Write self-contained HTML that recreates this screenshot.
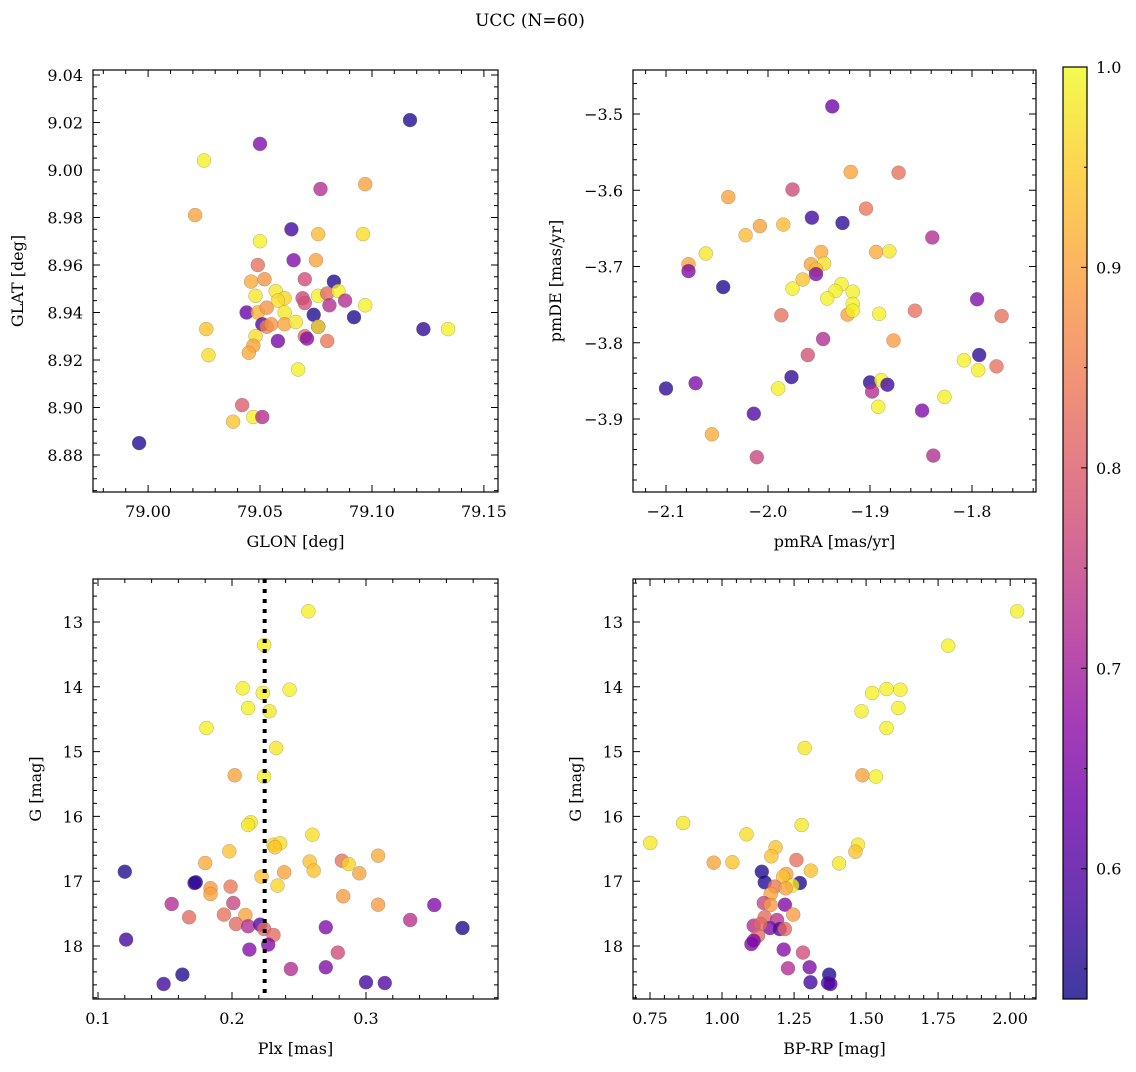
<!DOCTYPE html>
<html><head><meta charset="utf-8"><style>
body{margin:0;background:#fff;}
svg text{font-family:"DejaVu Serif","Liberation Serif",serif;fill:#000;}
</style></head><body>
<svg id="fig" width="1136" height="1067" viewBox="0 0 1136 1067" xmlns="http://www.w3.org/2000/svg">
<defs>
<linearGradient id="plasma" x1="0" y1="1" x2="0" y2="0">
<stop offset="0" stop-color="#0d0887"/><stop offset="0.1" stop-color="#41049d"/><stop offset="0.2" stop-color="#6a00a8"/><stop offset="0.3" stop-color="#8f0da4"/><stop offset="0.4" stop-color="#b12a90"/><stop offset="0.5" stop-color="#cc4778"/><stop offset="0.6" stop-color="#e16462"/><stop offset="0.7" stop-color="#f2844b"/><stop offset="0.8" stop-color="#fca636"/><stop offset="0.9" stop-color="#fcce25"/><stop offset="1" stop-color="#f0f921"/>
</linearGradient>
</defs>
<text x="530" y="26" font-size="17" text-anchor="middle">UCC (N=60)</text>
</svg>
<script>
// ---- data: GLON/GLAT panel ----
const glon = [79.117,79.050,79.025,79.077,79.097,79.021,79.064,79.076,79.096,79.050,79.065,79.075,79.049,79.070,79.046,79.052,79.083,79.048,79.057,79.061,79.058,79.069,79.070,79.076,79.080,79.085,79.088,79.081,79.097,79.044,79.049,79.053,79.061,79.051,79.053,79.055,79.061,79.066,79.074,79.076,79.076,79.092,79.123,79.134,79.026,79.048,79.047,79.045,79.027,79.058,79.070,79.071,79.080,79.067,79.042,79.047,79.051,79.038,78.996];
const glat = [9.021,9.011,9.004,8.992,8.994,8.981,8.975,8.973,8.973,8.970,8.962,8.962,8.960,8.954,8.953,8.954,8.953,8.947,8.949,8.946,8.945,8.946,8.944,8.947,8.948,8.949,8.945,8.943,8.943,8.940,8.940,8.942,8.940,8.935,8.934,8.935,8.935,8.936,8.939,8.934,8.934,8.938,8.933,8.933,8.933,8.930,8.926,8.923,8.922,8.928,8.930,8.929,8.928,8.916,8.901,8.896,8.896,8.894,8.885];
const probPos = [0.55,0.65,0.99,0.72,0.9,0.9,0.58,0.93,0.97,0.99,0.65,0.9,0.83,0.77,0.91,0.88,0.55,0.98,0.98,0.96,0.97,0.76,0.78,0.99,0.82,0.99,0.72,0.72,0.99,0.62,0.92,0.88,0.98,0.6,0.85,0.88,0.9,0.98,0.55,0.63,0.98,0.55,0.56,0.99,0.94,0.97,0.9,0.91,0.97,0.64,0.82,0.66,0.84,0.99,0.8,0.99,0.72,0.94,0.55];
// ---- data: proper motion panel ----
const pmra = [-1.937,-1.919,-1.872,-1.976,-2.039,-1.904,-1.957,-1.927,-1.985,-2.008,-2.022,-1.839,-2.061,-1.894,-1.881,-1.948,-2.078,-2.078,-1.958,-1.945,-1.953,-1.953,-2.044,-1.966,-1.976,-1.928,-1.934,-1.917,-1.942,-1.917,-1.922,-1.917,-1.891,-1.795,-1.856,-1.771,-1.987,-1.877,-1.946,-1.961,-1.793,-1.808,-1.794,-1.776,-2.100,-2.071,-1.977,-1.990,-1.900,-1.889,-1.883,-1.898,-1.892,-1.827,-1.849,-2.014,-2.055,-2.011,-1.838];
const pmde = [-3.490,-3.576,-3.577,-3.599,-3.609,-3.624,-3.636,-3.643,-3.645,-3.647,-3.659,-3.662,-3.683,-3.681,-3.680,-3.681,-3.697,-3.706,-3.697,-3.696,-3.704,-3.710,-3.727,-3.717,-3.729,-3.723,-3.732,-3.733,-3.742,-3.749,-3.763,-3.758,-3.762,-3.743,-3.758,-3.765,-3.764,-3.797,-3.795,-3.816,-3.816,-3.823,-3.836,-3.831,-3.860,-3.853,-3.845,-3.860,-3.852,-3.849,-3.855,-3.864,-3.884,-3.871,-3.889,-3.893,-3.920,-3.950,-3.948];
const probPm = [0.63,0.9,0.83,0.77,0.9,0.84,0.58,0.56,0.93,0.9,0.93,0.72,0.98,0.91,0.98,0.91,0.9,0.65,0.9,0.97,0.94,0.65,0.55,0.94,0.99,0.99,0.99,0.99,0.99,0.99,0.9,0.99,0.99,0.65,0.83,0.83,0.83,0.89,0.72,0.78,0.56,0.99,0.99,0.83,0.56,0.65,0.56,0.99,0.56,0.99,0.58,0.72,0.99,0.99,0.65,0.6,0.91,0.76,0.72];
// ---- data: parallax vs G panel ----
const plx = [0.257,0.224,0.208,0.223,0.243,0.212,0.228,0.181,0.233,0.202,0.224,0.214,0.212,0.260,0.231,0.236,0.232,0.198,0.180,0.258,0.261,0.282,0.287,0.309,0.295,0.120,0.173,0.172,0.222,0.239,0.234,0.184,0.184,0.199,0.283,0.309,0.155,0.201,0.351,0.168,0.194,0.210,0.333,0.203,0.212,0.221,0.224,0.231,0.270,0.372,0.121,0.227,0.213,0.279,0.244,0.270,0.163,0.149,0.300,0.314];
const gPlx = [12.835,13.355,14.023,14.095,14.044,14.327,14.378,14.636,14.944,15.366,15.386,16.091,16.132,16.282,16.436,16.415,16.477,16.539,16.719,16.698,16.837,16.683,16.734,16.606,16.878,16.853,17.017,17.028,16.930,16.863,17.068,17.110,17.198,17.084,17.233,17.362,17.352,17.336,17.367,17.557,17.516,17.521,17.598,17.660,17.696,17.670,17.737,17.830,17.711,17.722,17.902,17.979,18.056,18.102,18.355,18.329,18.442,18.586,18.560,18.571];
const probPlx = [0.99,0.99,0.99,0.99,0.99,0.99,0.98,0.99,0.98,0.9,0.99,0.98,0.98,0.97,0.96,0.97,0.94,0.94,0.91,0.94,0.94,0.83,0.96,0.91,0.9,0.55,0.53,0.57,0.94,0.9,0.96,0.89,0.9,0.84,0.89,0.89,0.72,0.76,0.65,0.82,0.83,0.9,0.73,0.82,0.72,0.6,0.82,0.82,0.65,0.55,0.58,0.65,0.66,0.77,0.72,0.65,0.55,0.58,0.58,0.6];
const plxMean = [0.2244];
// ---- data: CMD panel ----
const bprp = [2.024,1.785,1.521,1.571,1.619,1.484,1.612,1.571,1.287,1.487,1.534,0.865,1.276,1.085,0.751,1.186,1.171,1.472,1.463,0.971,1.036,1.406,1.258,1.308,1.138,1.148,1.223,1.212,1.270,1.244,1.183,1.221,1.169,1.145,1.218,1.169,1.247,1.148,1.191,1.110,1.166,1.200,1.218,1.133,1.125,1.102,1.110,1.214,1.281,1.229,1.304,1.372,1.307,1.368,1.376];
const gCmd = [12.835,13.365,14.095,14.033,14.044,14.378,14.327,14.636,14.944,15.366,15.386,16.101,16.132,16.276,16.410,16.477,16.616,16.436,16.544,16.714,16.708,16.725,16.672,16.837,16.853,17.017,16.889,16.930,17.028,17.068,17.084,17.110,17.198,17.336,17.362,17.367,17.516,17.557,17.598,17.686,17.722,17.737,17.737,17.660,17.840,17.969,17.918,18.056,18.102,18.344,18.329,18.442,18.560,18.571,18.586];
const probCmd = [0.99,0.99,0.99,0.99,0.99,0.99,0.99,0.99,0.98,0.9,0.99,0.98,0.98,0.97,0.98,0.94,0.94,0.98,0.94,0.9,0.94,0.98,0.83,0.94,0.55,0.55,0.9,0.94,0.55,0.98,0.84,0.9,0.9,0.76,0.65,0.89,0.89,0.82,0.73,0.72,0.65,0.6,0.82,0.82,0.82,0.65,0.65,0.66,0.77,0.72,0.65,0.55,0.58,0.58,0.6];
// ---- tick labels ----
const ticksGlon = [79.00,79.05,79.10,79.15];
const ticksGlat = [8.88,8.90,8.92,8.94,8.96,8.98,9.00,9.02,9.04];
const ticksPmra = [-2.1,-2.0,-1.9,-1.8];
const ticksPmde = [-3.9,-3.8,-3.7,-3.6,-3.5];
const ticksPlx = [0.1,0.2,0.3];
const ticksG = [13,14,15,16,17,18];
const ticksBprp = [0.75,1.00,1.25,1.50,1.75,2.00];
const ticksCbar = [0.6,0.7,0.8,0.9,1.0];
const pMin = 0.535, pMax = 1.0;

const NS = 'http://www.w3.org/2000/svg';
const svg = document.getElementById('fig');
const stops = ['#0d0887','#41049d','#6a00a8','#8f0da4','#b12a90','#cc4778','#e16462','#f2844b','#fca636','#fcce25','#f0f921'];
function hex(c){return [parseInt(c.substr(1,2),16),parseInt(c.substr(3,2),16),parseInt(c.substr(5,2),16)];}
function plasma(p){
  let t=(p-pMin)/(pMax-pMin); t=Math.max(0,Math.min(1,t));
  const f=t*10, i=Math.min(9,Math.floor(f)), u=f-i;
  const a=hex(stops[i]), b=hex(stops[i+1]);
  return 'rgb('+a.map((v,k)=>Math.round(v+(b[k]-v)*u)).join(',')+')';
}
function mk(tag, attrs, parent){
  const e=document.createElementNS(NS,tag);
  for(const k in attrs) e.setAttribute(k,attrs[k]);
  (parent||svg).appendChild(e); return e;
}
function fmt(v,d){return (v<0?'\u2212':'')+Math.abs(v).toFixed(d);}

function panel(cfg){
  const g=mk('g',{});
  
  
  const X=v=>cfg.x0+(v-cfg.xd[0])/(cfg.xd[1]-cfg.xd[0])*(cfg.x1-cfg.x0);
  const Y=v=>cfg.y0+(v-cfg.yd[0])/(cfg.yd[1]-cfg.yd[0])*(cfg.y1-cfg.y0);
  const pg=mk('g',{},g);
  
  
  for(let i=0;i<cfg.xs.length;i++){
    const c=mk('circle',{cx:X(cfg.xs[i]).toFixed(1),cy:Y(cfg.ys[i]).toFixed(1),r:7,fill:plasma(cfg.ps[i]),'fill-opacity':0.78,stroke:'#666','stroke-opacity':0.5,'stroke-width':0.5},pg);
    
    
  }
  if(cfg.vline){
    const l=mk('line',{x1:X(cfg.vline),x2:X(cfg.vline),y1:cfg.y0,y2:cfg.y1,stroke:'#000','stroke-width':4,'stroke-dasharray':'4 6'},g);
    
    
  }
  const fr=mk('rect',{x:cfg.x0,y:cfg.y0,width:cfg.x1-cfg.x0,height:cfg.y1-cfg.y0,fill:'none',stroke:'#000','stroke-width':1.2},g);
  
  
  const tk=mk('path',{stroke:'#000','stroke-width':1,fill:'none'},g);
  let d='';
  const xlo=Math.min(...cfg.xd), xhi=Math.max(...cfg.xd), ylo=Math.min(...cfg.yd), yhi=Math.max(...cfg.yd);
  for(let v=Math.ceil(xlo/cfg.xm-1e-6)*cfg.xm; v<=xhi+1e-9; v+=cfg.xm){
    const px=X(v).toFixed(1);
    const maj=cfg.xt.some(t=>Math.abs(t-v)<cfg.xm/3); const L=maj?7:4;
    d+=`M${px} ${cfg.y1}v${-L}M${px} ${cfg.y0}v${L}`;
  }
  for(let v=Math.ceil(ylo/cfg.ym-1e-6)*cfg.ym; v<=yhi+1e-9; v+=cfg.ym){
    const py=Y(v).toFixed(1);
    const maj=cfg.yt.some(t=>Math.abs(t-v)<cfg.ym/3); const L=maj?7:4;
    d+=`M${cfg.x0} ${py}h${L}M${cfg.x1} ${py}h${-L}`;
  }
  tk.setAttribute('d',d);
  
  
  cfg.xt.forEach(v=>{
    const t=mk('text',{x:X(v),y:cfg.y1+25,'font-size':16,'text-anchor':'middle'},g);
    t.textContent=fmt(v,cfg.xdp);
    
    
  });
  cfg.yt.forEach(v=>{
    const t=mk('text',{x:cfg.x0-10,y:Y(v)+6,'font-size':16,'text-anchor':'end'},g);
    t.textContent=fmt(v,cfg.ydp);
    
    
  });
  const xl=mk('text',{x:(cfg.x0+cfg.x1)/2,y:cfg.y1+55,'font-size':16,'text-anchor':'middle'},g);
  xl.textContent=cfg.xlabel;
  
  
  const yl=mk('text',{x:cfg.ylx,y:(cfg.y0+cfg.y1)/2,'font-size':16,'text-anchor':'middle',transform:`rotate(-90 ${cfg.ylx} ${(cfg.y0+cfg.y1)/2})`},g);
  yl.textContent=cfg.ylabel;
  
  
}

panel({name:'position-panel',x0:93,x1:498,y0:70,y1:492,xd:[78.9754,79.1563],yd:[9.0421,8.8644],xs:glon,ys:glat,ps:probPos,xt:ticksGlon,yt:ticksGlat,xm:0.01,ym:0.005,xdp:2,ydp:2,xlabel:'GLON [deg]',ylabel:'GLAT [deg]',ylx:23});
panel({name:'proper-motion-panel',x0:633,x1:1036,y0:70,y1:492,xd:[-2.1324,-1.7373],yd:[-3.4423,-3.9957],xs:pmra,ys:pmde,ps:probPm,xt:ticksPmra,yt:ticksPmde,xm:0.02,ym:0.02,xdp:1,ydp:1,xlabel:'pmRA [mas/yr]',ylabel:'pmDE [mas/yr]',ylx:561});
panel({name:'parallax-panel',x0:93,x1:498,y0:579,y1:999,xd:[0.0963,0.3985],yd:[12.336,18.818],xs:plx,ys:gPlx,ps:probPlx,xt:ticksPlx,yt:ticksG,xm:0.02,ym:0.2,xdp:1,ydp:0,xlabel:'Plx [mas]',ylabel:'G [mag]',ylx:41,vline:plxMean[0]});
panel({name:'cmd-panel',x0:633,x1:1036,y0:579,y1:999,xd:[0.691,2.0896],yd:[12.336,18.818],xs:bprp,ys:gCmd,ps:probCmd,xt:ticksBprp,yt:ticksG,xm:0.05,ym:0.2,xdp:2,ydp:0,xlabel:'BP-RP [mag]',ylabel:'G [mag]',ylx:581});

const cb=mk('g',{});


const cy0=67, cy1=999;
const CY=p=>cy0+(pMax-p)/(pMax-pMin)*(cy1-cy0);
mk('rect',{x:1063,y:cy0,width:24,height:cy1-cy0,fill:'url(#plasma)','fill-opacity':0.8},cb);
mk('rect',{x:1063,y:cy0,width:24,height:cy1-cy0,fill:'none',stroke:'#000','stroke-width':1.2},cb);
let cd='';
for(let v=0.55; v<=1.0001; v+=0.05){
  const maj=ticksCbar.some(t=>Math.abs(t-v)<0.01);
  cd+=`M1087 ${CY(v).toFixed(1)}h${maj?-6:-3}`;
}
mk('path',{d:cd,stroke:'#000','stroke-width':1},cb);
ticksCbar.forEach(v=>{
  const t=mk('text',{x:1096,y:CY(v)+6,'font-size':16},cb);
  t.textContent=v.toFixed(1);
  
  
});
</script>
</body></html>
